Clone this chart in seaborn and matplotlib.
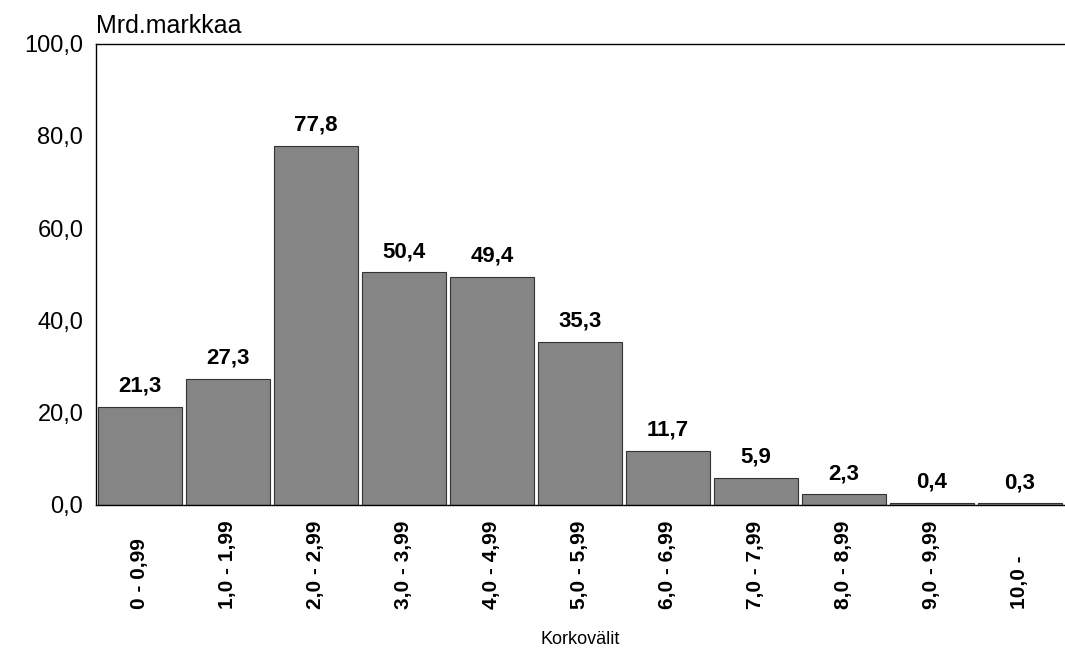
import matplotlib
matplotlib.use("Agg")
import matplotlib.pyplot as plt
import seaborn as sns
import pandas as pd

categories = ["0 - 0,99", "1,0 - 1,99", "2,0 - 2,99", "3,0 - 3,99", "4,0 - 4,99",
              "5,0 - 5,99", "6,0 - 6,99", "7,0 - 7,99", "8,0 - 8,99", "9,0 - 9,99", "10,0 -"]
values = [21.3, 27.3, 77.8, 50.4, 49.4, 35.3, 11.7, 5.9, 2.3, 0.4, 0.3]
yticks = [0, 20, 40, 60, 80, 100]

sns.set_style("white")
plt.rcParams['font.family'] = ['Liberation Sans', 'DejaVu Sans']
plt.rcParams['text.color'] = 'black'
plt.rcParams['xtick.color'] = 'black'
plt.rcParams['ytick.color'] = 'black'
plt.rcParams['axes.labelcolor'] = 'black'

df = pd.DataFrame({"kategoria": categories, "arvo": values})

fig = plt.figure(figsize=(10.65, 6.53), dpi=100)
ax = fig.add_axes([0.090, 0.227, 0.909, 0.706])
sns.barplot(data=df, x="kategoria", y="arvo", color="#858585", width=0.96,
            edgecolor="#333333", linewidth=0.8, saturation=1, ax=ax)

# arvotunnisteet pylväiden päälle
for i, v in enumerate(values):
    ax.text(i, v + 2.2, f"{v:.1f}".replace(".", ","), ha="center", va="bottom",
            fontsize=16, fontweight="bold")

ax.set_ylim(0, 100)
ax.set_xlim(-0.5, len(categories) - 0.5)
ax.set_yticks(yticks)
ax.set_yticklabels([f"{t:.1f}".replace(".", ",") for t in yticks], fontsize=17)
ax.set_xticks(range(len(categories)))
ax.set_xticklabels(categories, rotation=90, fontsize=15, fontweight="bold",
                   va="bottom")
ax.tick_params(axis="y", length=0, pad=9)
ax.tick_params(axis="x", length=0, pad=75)

for s in ["left", "top", "bottom"]:
    ax.spines[s].set_color("black")
    ax.spines[s].set_linewidth(1.0)
ax.spines["right"].set_visible(False)

ax.set_xlabel("Korkovälit", fontsize=13, va="center")
ax.xaxis.set_label_coords(0.5, -0.293)
ax.set_ylabel("")
fig.text(0.090, 0.942, "Mrd.markkaa", fontsize=18, ha="left", va="bottom")

fig.savefig("out.png", dpi=100)
